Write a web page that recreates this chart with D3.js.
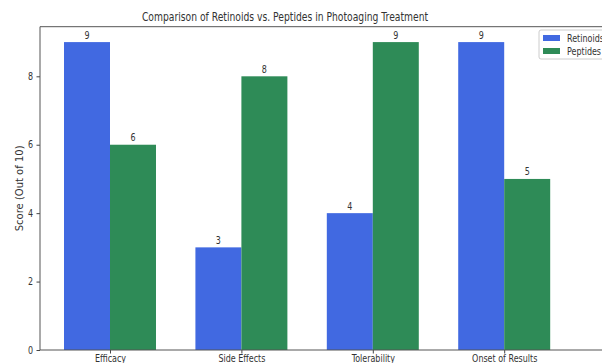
<!DOCTYPE html>
<html>
<head>
<meta charset="utf-8">
<script src="https://cdn.jsdelivr.net/npm/d3@7"></script>
<style>
  body { margin: 0; background: #fff; }
  svg text { font-family: "DejaVu Sans", sans-serif; fill: #333; }
</style>
</head>
<body>
<div class="chart"></div>
<script>
const width = 602
const height = 363

const categories = ["Efficacy", "Side Effects", "Tolerability", "Onset of Results"]
const retinoids = [9, 3, 4, 9]
const peptides = [6, 8, 9, 5]
const yTicks = [0, 2, 4, 6, 8]
const seriesNames = ["Retinoids", "Peptides"]
const colors = ["#4169E1", "#2E8B57"]

const plotLeft = 40
const plotTop = 26.7
const plotBottom = 350
const barW = 0.35
const squeeze = "scale(0.8,1)"   // the picture is narrower than tall text

const svg = d3.select(".chart")
    .append("svg")
    .attr("width", width)
    .attr("height", height)

const xScale = d3.scaleLinear()
    .domain([-0.535, 3.535])
    .range([39.7, 574.5])

const yScale = d3.scaleLinear()
    .domain([0, 9.45])
    .range([plotBottom, plotTop])

// bars
const series = [retinoids, peptides]
series.forEach(function(vals, s) {
    svg.append("g")
        .selectAll("rect")
        .data(vals)
        .join("rect")
        .attr("x", (d, i) => xScale(i + (s === 0 ? -barW : 0)))
        .attr("y", d => yScale(d))
        .attr("width", xScale(barW) - xScale(0))
        .attr("height", d => plotBottom - yScale(d))
        .attr("fill", colors[s])

    svg.append("g")
        .selectAll("text")
        .data(vals)
        .join("text")
        .attr("transform", (d, i) => "translate(" + xScale(i + (s === 0 ? -barW / 2 : barW / 2)) + "," + (yScale(d) - 3.5) + ") " + squeeze)
        .attr("text-anchor", "middle")
        .attr("font-size", 10)
        .text(d => d)
})

// axes
const yAxis = d3.axisLeft(yScale)
    .tickValues(yTicks)
    .tickSize(3.5)
    .tickPadding(5)

svg.append("g")
    .attr("transform", "translate(" + plotLeft + ",0)")
    .call(yAxis)
    .call(g => g.select(".domain").remove())
    .selectAll("text")
        .attr("font-size", 10)
        .attr("transform", squeeze)

const xAxis = d3.axisBottom(xScale)
    .tickValues(d3.range(categories.length))
    .tickFormat(i => categories[i])
    .tickSize(3.5)
    .tickPadding(1.5)

svg.append("g")
    .attr("transform", "translate(0," + plotBottom + ")")
    .call(xAxis)
    .call(g => g.select(".domain").remove())
    .selectAll("text")
        .attr("font-size", 10)
        .attr("transform", squeeze)

svg.selectAll(".tick line").attr("stroke", "#444")

// spines
svg.append("line").attr("x1", plotLeft).attr("x2", plotLeft).attr("y1", plotTop).attr("y2", plotBottom)
    .attr("stroke", "#555").attr("stroke-width", 1)
svg.append("line").attr("x1", plotLeft).attr("x2", width).attr("y1", plotBottom).attr("y2", plotBottom)
    .attr("stroke", "#555").attr("stroke-width", 1)
svg.append("line").attr("x1", plotLeft).attr("x2", width).attr("y1", plotTop).attr("y2", plotTop)
    .attr("stroke", "#555").attr("stroke-width", 1)

// title and y label
svg.append("text")
    .attr("transform", "translate(285,21) " + squeeze)
    .attr("text-anchor", "middle")
    .attr("font-size", 11.5)
    .text("Comparison of Retinoids vs. Peptides in Photoaging Treatment")

svg.append("text")
    .attr("transform", "translate(23," + ((plotTop + plotBottom) / 2) + ") rotate(-90)")
    .attr("text-anchor", "middle")
    .attr("font-size", 10)
    .text("Score (Out of 10)")

// legend
const legend = svg.append("g").attr("transform", "translate(539,30)")
legend.append("rect")
    .attr("width", 80).attr("height", 29).attr("rx", 2)
    .attr("fill", "#fff").attr("fill-opacity", 0.8)
    .attr("stroke", "#ccc")
seriesNames.forEach(function(name, i) {
    legend.append("rect")
        .attr("x", 4).attr("y", 5 + i * 13)
        .attr("width", 17).attr("height", 6)
        .attr("fill", colors[i])
    legend.append("text")
        .attr("transform", "translate(28," + (12 + i * 13) + ") " + squeeze)
        .attr("font-size", 10)
        .text(name)
})
</script>
</body>
</html>
